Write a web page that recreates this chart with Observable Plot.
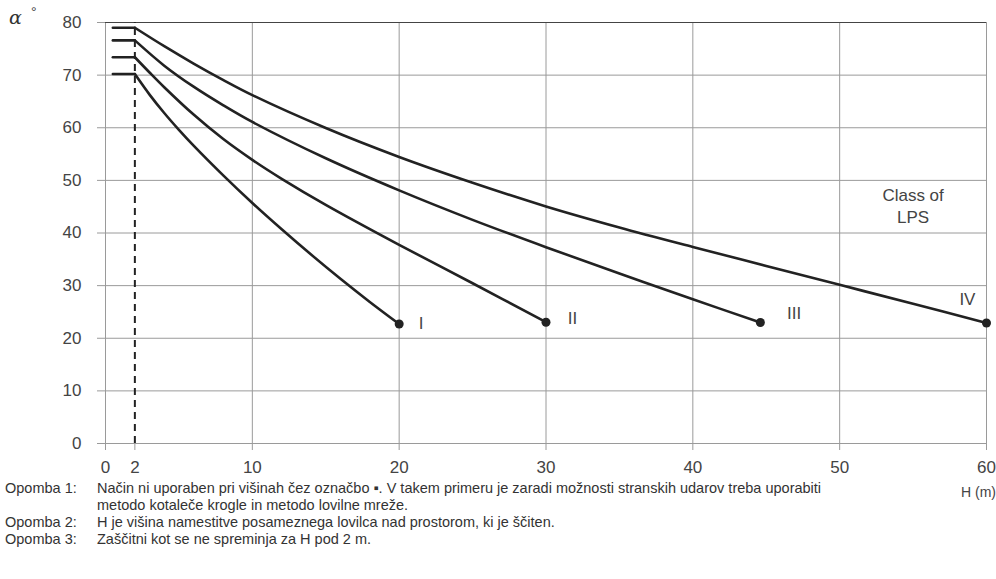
<!DOCTYPE html>
<html><head><meta charset="utf-8">
<script src="https://cdn.jsdelivr.net/npm/d3@7"></script>
<script src="https://cdn.jsdelivr.net/npm/@observablehq/plot@0.6"></script>
<style>
body{margin:0;background:#fff;font-family:"Liberation Sans",Arial,sans-serif;}
#wrap{position:relative;width:996px;height:579px;overflow:hidden;}
#chart{position:absolute;left:0;top:0;}
#alpha{position:absolute;left:9px;top:6px;font-family:"DejaVu Serif","Liberation Serif",serif;font-style:italic;font-size:19px;color:#333;}
#deg{position:absolute;left:31px;top:4px;font-size:14px;color:#444;}
#hm{position:absolute;left:961px;top:484px;font-size:14px;color:#444;white-space:nowrap;}
#notes{position:absolute;left:5px;top:480px;font-size:14.5px;color:#333;line-height:17px;white-space:nowrap;}
.row{display:flex}
.lab{width:92px;flex:none}
</style></head><body>
<div id="wrap">
<div id="chart"></div>
<span id="alpha">α</span><span id="deg">°</span>
<span id="hm">H (m)</span>
<div id="notes">
<div class="row"><div class="lab">Opomba 1:</div><div>Način ni uporaben pri višinah čez označbo ▪. V takem primeru je zaradi možnosti stranskih udarov treba uporabiti<br>metodo kotaleče krogle in metodo lovilne mreže.</div></div>
<div class="row"><div class="lab">Opomba 2:</div><div>H je višina namestitve posameznega lovilca nad prostorom, ki je ščiten.</div></div>
<div class="row"><div class="lab">Opomba 3:</div><div>Zaščitni kot se ne spreminja za H pod 2 m.</div></div>
</div>
</div>
<script>
// Data
const classNames = ["I", "II", "III", "IV"];
const H_I   = [2, 3, 4, 5, 6, 8, 10, 12, 14, 16, 18, 20];
const A_I   = [70.2, 66.3, 62.8, 59.6, 56.6, 51.0, 45.7, 40.7, 35.9, 31.3, 26.9, 22.7];
const H_II  = [2, 3, 4, 6, 8, 10, 12, 15, 20, 25, 30];
const A_II  = [73.4, 70.5, 67.7, 62.5, 57.9, 53.9, 50.3, 45.35, 37.75, 30.45, 23.05];
const H_III = [2, 4, 6, 8, 10, 15, 20, 25, 30, 35, 40, 44.6];
const A_III = [76.6, 71.8, 67.8, 64.3, 61.1, 54.2, 48.1, 42.5, 37.3, 32.3, 27.4, 23.0];
const H_IV  = [2, 4, 6, 8, 10, 15, 20, 25, 30, 35, 40, 45, 50, 55, 60];
const A_IV  = [79, 75.5, 72.2, 69.1, 66.2, 59.95, 54.45, 49.55, 45.05, 41.05, 37.35, 33.75, 30.15, 26.55, 22.9];
const flatStartH = 0.5;   // constant angle below H = 2 m
const limitH = 2;         // dashed line
const xTicks = [0, 2, 10, 20, 30, 40, 50, 60];
const xGrid = [10, 20, 30, 40, 50, 60];
const yTicks = [0, 10, 20, 30, 40, 50, 60, 70, 80];
const labelOffsets = {I: [1.5, 0], II: [1.8, 0.6], III: [2.3, 1.7], IV: [-1.3, 4.4]};
const classTitle = "Class of\nLPS";
const classTitlePos = {H: 55.0, A: 45.3};

const series = [[H_I, A_I], [H_II, A_II], [H_III, A_III], [H_IV, A_IV]];
const curves = [];
const flats = [];
const ends = [];
const labels = [];
series.forEach(([hs, as], i) => {
  const c = classNames[i];
  hs.forEach((h, j) => curves.push({cls: c, H: h, A: as[j]}));
  flats.push({cls: c, H: flatStartH, A: as[0]}, {cls: c, H: hs[0], A: as[0]});
  const e = {cls: c, H: hs[hs.length - 1], A: as[as.length - 1]};
  ends.push(e);
  labels.push({text: c, H: e.H + labelOffsets[c][0], A: e.A + labelOffsets[c][1]});
});

const chart = Plot.plot({
  width: 996, height: 500,
  marginLeft: 105, marginRight: 10, marginTop: 22, marginBottom: 57,
  x: {domain: [0, 60], label: null},
  y: {domain: [0, 80], label: null},
  style: {fontFamily: "Liberation Sans, Arial, sans-serif", fontSize: "17px", color: "#444", background: "#fff"},
  marks: [
    Plot.gridX(xGrid, {stroke: "#9a9a9a", strokeOpacity: 1}),
    Plot.gridY(yTicks, {stroke: "#9a9a9a", strokeOpacity: 1}),
    Plot.ruleX([0], {stroke: "#9a9a9a"}),
    Plot.ruleY([80], {stroke: "#444"}),
    Plot.axisY(yTicks, {tickSize: 8, tickPadding: 16, stroke: "#9a9a9a", fill: "#444", fontSize: 17, label: null}),
    Plot.axisX(xTicks, {tickSize: 7, tickPadding: 10, stroke: "#9a9a9a", fill: "#444", fontSize: 17, label: null}),
    Plot.ruleX([limitH], {y1: 0, y2: 80, stroke: "#222", strokeWidth: 2, strokeDasharray: "7,5"}),
    Plot.line(flats, {x: "H", y: "A", z: "cls", stroke: "#222", strokeWidth: 2.6}),
    Plot.line(curves, {x: "H", y: "A", z: "cls", stroke: "#222", strokeWidth: 2.6, curve: "catmull-rom"}),
    Plot.dot(ends, {x: "H", y: "A", r: 4.5, fill: "#222"}),
    Plot.text(labels, {x: "H", y: "A", text: "text", fontSize: 17, fill: "#444"}),
    Plot.text([classTitle], {x: () => classTitlePos.H, y: () => classTitlePos.A, text: d => d, fontSize: 17, fill: "#444", lineHeight: 1.3})
  ]
});
document.getElementById("chart").appendChild(chart);
</script>
</body></html>
